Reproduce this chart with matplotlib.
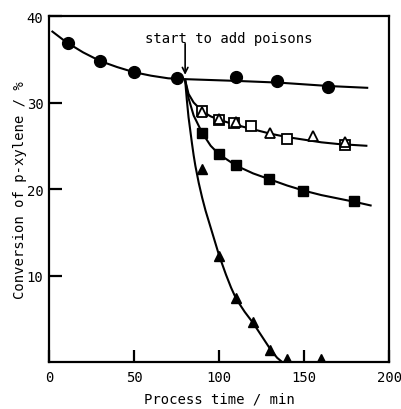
import matplotlib.pyplot as plt

# measured points
circ_x = [11, 30, 50, 75, 110, 134, 164]
circ_y = [36.9, 34.8, 33.5, 32.8, 32.9, 32.5, 31.8]

osq_x = [90, 100, 109, 119, 140, 174]
osq_y = [29.0, 28.0, 27.6, 27.3, 25.8, 25.1]

otri_x = [90, 100, 110, 130, 155, 174]
otri_y = [28.9, 28.1, 27.7, 26.5, 26.1, 25.4]

fsq_x = [90, 100, 110, 129, 149, 179]
fsq_y = [26.5, 24.0, 22.8, 21.2, 19.8, 18.6]

ftri_x = [90, 100, 110, 120, 130, 140, 160]
ftri_y = [22.3, 12.2, 7.4, 4.6, 1.4, 0.3, 0.3]

# hand drawn guide curves
curve_circ_x = [2, 10, 20, 30, 40, 50, 60, 70, 80, 110, 135, 165, 187]
curve_circ_y = [38.2, 37.0, 35.8, 34.8, 34.1, 33.5, 33.1, 32.8, 32.7, 32.5, 32.3, 31.9, 31.7]

curve_open_x = [80, 82, 85, 90, 95, 100, 110, 120, 130, 140, 150, 160, 170, 186.5]
curve_open_y = [32.6, 31.0, 30.0, 29.0, 28.4, 28.0, 27.4, 26.9, 26.4, 26.0, 25.7, 25.4, 25.2, 25.0]

curve_fsq_x = [80, 82, 85, 90, 95, 100, 110, 120, 130, 140, 150, 160, 170, 180, 189]
curve_fsq_y = [32.6, 30.5, 28.5, 26.5, 25.0, 24.0, 22.7, 21.8, 21.1, 20.4, 19.8, 19.3, 18.9, 18.5, 18.1]

curve_ftri_x = [80, 81, 82, 83, 84, 85, 86, 88, 90, 92, 96, 100, 104, 107, 110, 115, 120, 125, 130, 134, 137]
curve_ftri_y = [32.6, 30.3, 28.3, 26.8, 25.3, 23.9, 22.7, 20.7, 19.0, 17.5, 14.9, 12.3, 10.1, 8.6, 7.3, 5.8, 4.5, 3.0, 1.5, 0.5, 0.0]

x_ticks = [0, 50, 100, 150, 200]
y_ticks = [10, 20, 30, 40]

plt.rcParams['font.family'] = ['DejaVu Sans Mono']

fig = plt.figure(figsize=(4.01, 4.10), dpi=100)
ax = fig.add_axes([0.1222, 0.1146, 0.8487, 0.8439])

lw = 1.5
ax.plot(curve_circ_x, curve_circ_y, color='black', lw=lw)
ax.plot(curve_open_x, curve_open_y, color='black', lw=lw)
ax.plot(curve_fsq_x, curve_fsq_y, color='black', lw=lw)
ax.plot(curve_ftri_x, curve_ftri_y, color='black', lw=lw)

ax.plot(circ_x, circ_y, 'o', color='black', ms=8.5)
ax.plot(osq_x, osq_y, 's', mfc='white', mec='black', mew=1.3, ms=6.5)
ax.plot(otri_x, otri_y, '^', mfc='white', mec='black', mew=1.3, ms=7)
ax.plot(fsq_x, fsq_y, 's', color='black', ms=6.5)
ax.plot(ftri_x, ftri_y, '^', color='black', ms=7)

ax.text(105.5, 37.5, 'start to add poisons', ha='center', va='center', fontsize=10)
# the arrow drops straight down from under the text
ax.annotate('', xy=(80, 33.2), xytext=(80, 36.8),
            arrowprops=dict(arrowstyle='->', color='black', lw=1.2,
                            shrinkA=0, shrinkB=0))

ax.set_xlim(0, 200)
ax.set_ylim(0, 40)
ax.set_xticks(x_ticks)
ax.set_yticks(y_ticks)
ax.tick_params(direction='in', length=9, width=1.6, labelsize=10)
ax.tick_params(axis='x', pad=6)
ax.tick_params(axis='y', pad=4)
for s in ax.spines.values():
    s.set_linewidth(1.6)

ax.set_xlabel('Process time / min', fontsize=10, labelpad=5)
ax.set_ylabel('Conversion of p-xylene / %', fontsize=10, labelpad=0)

plt.savefig('out.png', dpi=100)
